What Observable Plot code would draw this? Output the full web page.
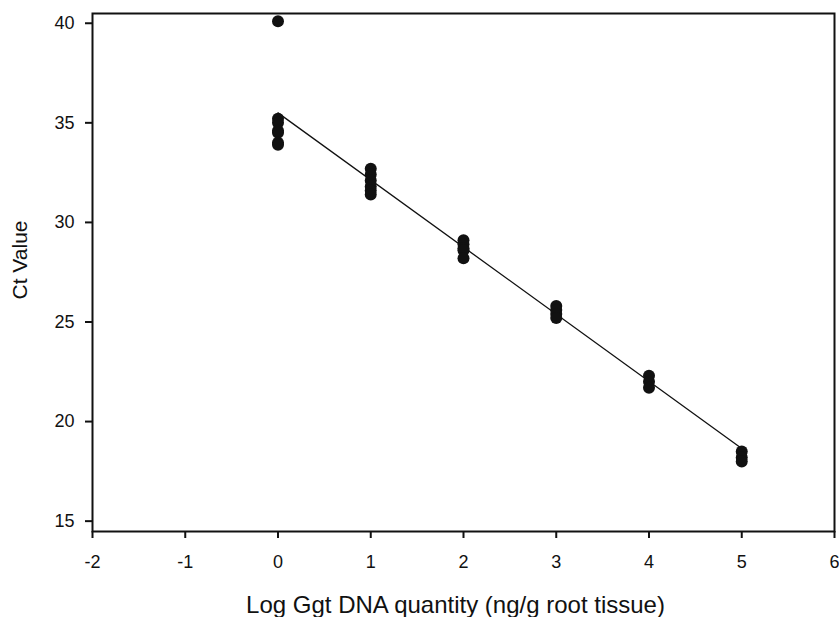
<!DOCTYPE html>
<html>
<head>
<meta charset="utf-8">
<script src="https://cdn.jsdelivr.net/npm/d3@7"></script>
<script src="https://cdn.jsdelivr.net/npm/@observablehq/plot@0.6"></script>
<style>
  html, body { margin: 0; padding: 0; background: #fff; }
</style>
</head>
<body>
<div id="chart"></div>
<script>
// Measured data: log DNA quantity vs Ct value
const logQty = [0, 0, 0, 0, 0, 0, 0,
                1, 1, 1, 1, 1, 1,
                2, 2, 2, 2, 2,
                3, 3, 3, 3,
                4, 4, 4,
                5, 5, 5];
const ctValue = [40.1, 35.2, 35.0, 34.6, 34.5, 34.0, 33.9,
                 32.7, 32.4, 32.1, 31.8, 31.6, 31.4,
                 29.1, 28.9, 28.7, 28.6, 28.2,
                 25.8, 25.6, 25.4, 25.2,
                 22.3, 22.0, 21.7,
                 18.5, 18.2, 18.0];
// Fitted regression line endpoints
const fitX = [0, 5];
const fitY = [35.5, 18.65];
const xTicks = [-2, -1, 0, 1, 2, 3, 4, 5, 6];
const yTicks = [15, 20, 25, 30, 35, 40];
const xTitle = "Log Ggt DNA quantity (ng/g root tissue)";
const yTitle = "Ct Value";

const points = logQty.map((x, i) => ({x, y: ctValue[i]}));
const fit = fitX.map((x, i) => ({x, y: fitY[i]}));

const chart = Plot.plot({
  width: 839,
  height: 617,
  marginLeft: 92,
  marginTop: 13,
  marginRight: 5,
  marginBottom: 86,
  style: {fontFamily: "Liberation Sans, Arial, sans-serif", fontSize: "18px", background: "#fff", color: "#111"},
  x: {domain: [-2, 6]},
  y: {domain: [14.48, 40.49]},
  marks: [
    Plot.frame({stroke: "#111", strokeWidth: 2}),
    Plot.axisX({ticks: xTicks, tickSize: 7, strokeWidth: 2, label: null, tickFormat: () => ""}),
    Plot.axisY({ticks: yTicks, tickSize: 7, strokeWidth: 2, label: null, tickFormat: () => ""}),
    Plot.text(xTicks, {x: d => d, frameAnchor: "bottom", dy: 24, text: d => String(d), fontSize: 18, fill: "#111", lineAnchor: "top"}),
    Plot.text(yTicks, {y: d => d, frameAnchor: "left", dx: -18, text: d => String(d), fontSize: 18, fill: "#111", textAnchor: "end", lineAnchor: "middle"}),
    Plot.line(fit, {x: "x", y: "y", stroke: "#111", strokeWidth: 1.3}),
    Plot.dot(points, {x: "x", y: "y", r: 6, fill: "#111", stroke: "none"}),
    Plot.text([xTitle], {frameAnchor: "bottom", dx: -8, dy: 74, text: d => d, fontSize: 24, fill: "#111", lineAnchor: "middle"}),
    Plot.text([yTitle], {frameAnchor: "left", dx: -72, dy: 27, rotate: -90, text: d => d, fontSize: 21, fill: "#111", lineAnchor: "middle"})
  ]
});
document.getElementById("chart").appendChild(chart);
</script>
</body>
</html>
